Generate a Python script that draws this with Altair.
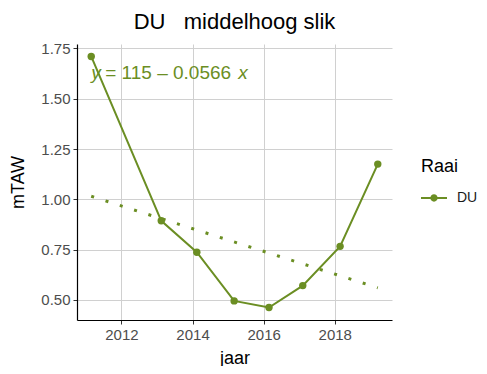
import altair as alt
import pandas as pd

# data
years = [2011.15, 2013.12, 2014.12, 2015.17, 2016.15, 2017.10, 2018.15, 2019.21]
mtaw = [1.71, 0.893, 0.737, 0.495, 0.462, 0.571, 0.766, 1.175]
raai = ["DU"] * len(years)

fit_years = [2011.15, 2019.21]
fit_values = [1.015, 0.56]

ann_x = [2011.15]
ann_y = [1.60]

x_ticks = [2012, 2014, 2016, 2018]
y_ticks = [0.5, 0.75, 1.0, 1.25, 1.5, 1.75]
x_domain = [2010.75, 2019.61]
y_domain = [0.40, 1.772]

OLIVE = "#6b8e23"
FONT = "Liberation Sans"

df = pd.DataFrame({"jaar": years, "mTAW": mtaw, "Raai": raai})
fit_df = pd.DataFrame({"jaar": fit_years, "mTAW": fit_values})
ann_df = pd.DataFrame({"jaar": ann_x, "mTAW": ann_y})

x_enc = alt.X(
    "jaar:Q",
    scale=alt.Scale(domain=x_domain, nice=False, zero=False),
    axis=alt.Axis(values=x_ticks, format="d", title="jaar"),
)
y_enc = alt.Y(
    "mTAW:Q",
    scale=alt.Scale(domain=y_domain, nice=False, zero=False),
    axis=alt.Axis(values=y_ticks, format=".2f", title="mTAW"),
)

base = alt.Chart(df)

line = base.mark_line(color=OLIVE, strokeWidth=2).encode(x=x_enc, y=y_enc)

legend_path = (
    "M-1,-0.075L1,-0.075L1,0.075L-1,0.075Z"
    "M-0.28,0A0.28,0.28,0,1,1,0.28,0A0.28,0.28,0,1,1,-0.28,0Z"
)

points = base.mark_point(filled=True, size=55, opacity=1).encode(
    x="jaar:Q",
    y="mTAW:Q",
    color=alt.Color(
        "Raai:N",
        scale=alt.Scale(domain=["DU"], range=[OLIVE]),
        legend=alt.Legend(
            title="Raai",
            orient="none",
            legendX=344,
            legendY=114,
            symbolType=legend_path,
            symbolSize=676,
            symbolStrokeWidth=0,
            symbolOpacity=1,
            labelOffset=10,
            titlePadding=9,
            titleFontSize=18,
            titleFont=FONT,
            titleFontWeight="normal",
            titleColor="#000000",
            labelFontSize=14,
            labelFont=FONT,
            labelColor="#1a1a1a",
            padding=0,
        ),
    ),
)

fit = alt.Chart(fit_df).mark_line(
    color=OLIVE, strokeWidth=3, strokeDash=[3, 12]
).encode(x="jaar:Q", y="mTAW:Q")

txt_style = dict(color=OLIVE, fontSize=19, font=FONT, align="left", baseline="alphabetic")
t1 = alt.Chart(ann_df).mark_text(text="y", fontStyle="italic", dx=0, **txt_style).encode(
    x="jaar:Q", y="mTAW:Q"
)
t2 = alt.Chart(ann_df).mark_text(text="= 115 \u2013 0.0566", dx=14, **txt_style).encode(
    x="jaar:Q", y="mTAW:Q"
)
t3 = alt.Chart(ann_df).mark_text(text="x", fontStyle="italic", dx=147, **txt_style).encode(
    x="jaar:Q", y="mTAW:Q"
)

chart = (
    alt.layer(fit, line, points, t1, t2, t3)
    .properties(
        width=315,
        height=276,
        autosize=alt.AutoSizeParams(type="none"),
        padding={"left": 69, "top": 36, "right": 87, "bottom": 46},
        title=alt.TitleParams(
            text="DU\u00a0\u00a0\u00a0middelhoog slik",
            fontSize=22,
            font=FONT,
            fontWeight="normal",
            color="#000000",
            anchor="middle",
            frame="group",
            baseline="alphabetic",
            offset=-10,
        ),
    )
    .configure_view(stroke=None)
    .configure_axis(
        domainColor="#000000",
        domainWidth=1.2,
        tickColor="#333333",
        tickSize=4,
        labelFont=FONT,
        labelFontSize=15,
        labelColor="#4d4d4d",
        titleFont=FONT,
        titleFontSize=18,
        titleFontWeight="normal",
        titleColor="#000000",
        gridColor="#d0d0d0",
        gridWidth=1,
    )
    .configure_axisX(labelPadding=3, titlePadding=7)
    .configure_axisY(labelPadding=3, titlePadding=13)
)

chart.save("out.html", embed_options={"renderer": "svg", "actions": False})
